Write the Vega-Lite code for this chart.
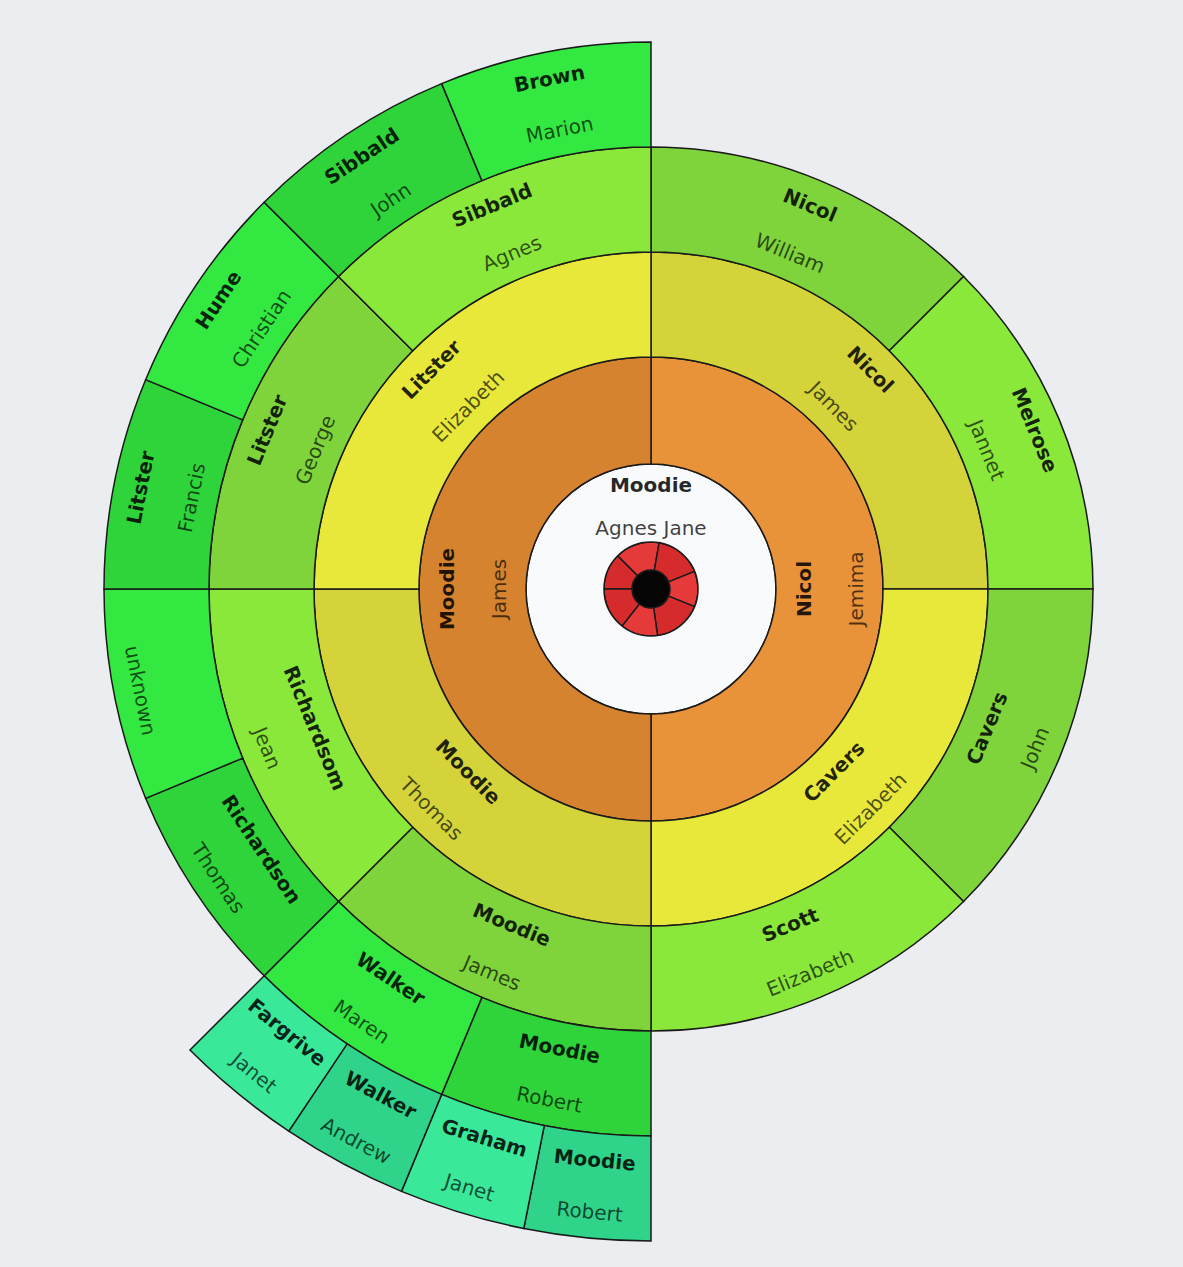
{
  "$schema": "https://vega.github.io/schema/vega-lite/v6.json",
  "width": 1064,
  "height": 1178,
  "padding": {"left": 119, "top": 0, "right": 0, "bottom": 89},
  "autosize": {"type": "none"},
  "background": "#ebedf0",
  "config": {"view": {"stroke": null}},
  "data": {
    "values": [
      {"gen": -2, "sex": "", "surname": "", "given": "", "a0": 0, "a1": 360},
      {"gen": -1, "sex": "M", "surname": "", "given": "", "a0": 270, "a1": 315},
      {"gen": -1, "sex": "F", "surname": "", "given": "", "a0": 315, "a1": 370},
      {"gen": -1, "sex": "M", "surname": "", "given": "", "a0": 10, "a1": 68},
      {"gen": -1, "sex": "F", "surname": "", "given": "", "a0": 68, "a1": 112},
      {"gen": -1, "sex": "M", "surname": "", "given": "", "a0": 112, "a1": 172},
      {"gen": -1, "sex": "F", "surname": "", "given": "", "a0": 172, "a1": 218},
      {"gen": -1, "sex": "M", "surname": "", "given": "", "a0": 218, "a1": 270},
      {"gen": 0, "sex": "F", "surname": "Moodie", "given": "Agnes Jane", "a0": -180, "a1": 180},
      {"gen": 1, "sex": "F", "surname": "Nicol", "given": "Jemima", "a0": 0, "a1": 180},
      {"gen": 1, "sex": "M", "surname": "Moodie", "given": "James", "a0": 180, "a1": 360},
      {"gen": 2, "sex": "M", "surname": "Nicol", "given": "James", "a0": 0, "a1": 90},
      {"gen": 2, "sex": "F", "surname": "Cavers", "given": "Elizabeth", "a0": 90, "a1": 180},
      {"gen": 2, "sex": "M", "surname": "Moodie", "given": "Thomas", "a0": 180, "a1": 270},
      {"gen": 2, "sex": "F", "surname": "Litster", "given": "Elizabeth", "a0": 270, "a1": 360},
      {"gen": 3, "sex": "M", "surname": "Nicol", "given": "William", "a0": 0, "a1": 45},
      {"gen": 3, "sex": "F", "surname": "Melrose", "given": "Jannet", "a0": 45, "a1": 90},
      {"gen": 3, "sex": "M", "surname": "Cavers", "given": "John", "a0": 90, "a1": 135},
      {"gen": 3, "sex": "F", "surname": "Scott", "given": "Elizabeth", "a0": 135, "a1": 180},
      {"gen": 3, "sex": "M", "surname": "Moodie", "given": "James", "a0": 180, "a1": 225},
      {"gen": 3, "sex": "F", "surname": "Richardsom", "given": "Jean", "a0": 225, "a1": 270},
      {"gen": 3, "sex": "M", "surname": "Litster", "given": "George", "a0": 270, "a1": 315},
      {"gen": 3, "sex": "F", "surname": "Sibbald", "given": "Agnes", "a0": 315, "a1": 360},
      {"gen": 4, "sex": "M", "surname": "Moodie", "given": "Robert", "a0": 180, "a1": 202.5},
      {"gen": 4, "sex": "F", "surname": "Walker", "given": "Maren", "a0": 202.5, "a1": 225},
      {"gen": 4, "sex": "M", "surname": "Richardson", "given": "Thomas", "a0": 225, "a1": 247.5},
      {"gen": 4, "sex": "F", "surname": "", "given": "unknown", "a0": 247.5, "a1": 270},
      {"gen": 4, "sex": "M", "surname": "Litster", "given": "Francis", "a0": 270, "a1": 292.5},
      {"gen": 4, "sex": "F", "surname": "Hume", "given": "Christian", "a0": 292.5, "a1": 315},
      {"gen": 4, "sex": "M", "surname": "Sibbald", "given": "John", "a0": 315, "a1": 337.5},
      {"gen": 4, "sex": "F", "surname": "Brown", "given": "Marion", "a0": 337.5, "a1": 360},
      {"gen": 5, "sex": "M", "surname": "Moodie", "given": "Robert", "a0": 180, "a1": 191.25},
      {"gen": 5, "sex": "F", "surname": "Graham", "given": "Janet", "a0": 191.25, "a1": 202.5},
      {"gen": 5, "sex": "M", "surname": "Walker", "given": "Andrew", "a0": 202.5, "a1": 213.75},
      {"gen": 5, "sex": "F", "surname": "Fargrive", "given": "Janet", "a0": 213.75, "a1": 225}
    ]
  },
  "transform": [
    {"calculate": "datum.gen - 1", "as": "gin"},
    {"calculate": "datum.gen - 0.5", "as": "rmid"},
    {"calculate": "(datum.a0 + datum.a1) / 2", "as": "mid"},
    {"calculate": "datum.gen + datum.sex", "as": "tone"}
  ],
  "layer": [
    {
      "mark": {"type": "arc", "stroke": "#1a1a1a", "strokeWidth": 1.5},
      "encoding": {
        "theta": {"field": "a0", "type": "quantitative", "stack": null, "scale": {"domain": [0, 360], "range": [0, 6.283185307179586], "zero": false, "nice": false}},
        "theta2": {"field": "a1"},
        "radius": {"field": "gen", "type": "quantitative", "scale": {"type": "linear", "domain": [-3, -2, -1, 0, 1, 2, 3, 4, 5], "range": [0, 19, 47, 125, 232, 337, 442, 547, 652], "zero": false, "nice": false}},
        "radius2": {"field": "gin"},
        "color": {
          "field": "tone", "type": "nominal", "legend": null,
          "scale": {
            "domain": ["-2", "-1M", "-1F", "0F", "1M", "1F", "2M", "2F", "3M", "3F", "4M", "4F", "5M", "5F"],
            "range": ["#050505", "#d62b2d", "#e63a3a", "#f9fafb", "#d5832f", "#e8923a", "#d4d43a", "#e8e83a", "#7ed43a", "#8ae83a", "#2fd43a", "#33e840", "#2fd48a", "#3ae89a"]
          }
        }
      }
    },
    {
      "transform": [{"filter": "datum.gen >= 1"}],
      "mark": {"type": "text", "font": "DejaVu Sans", "fontSize": 20, "fontWeight": "bold", "fill": "#000", "fillOpacity": 0.85, "dy": -25, "baseline": "middle", "align": "center"},
      "encoding": {
        "theta": {"field": "mid", "type": "quantitative", "stack": null, "scale": {"domain": [0, 360], "range": [0, 6.283185307179586], "zero": false, "nice": false}},
        "radius": {"field": "rmid", "type": "quantitative", "scale": {"type": "linear", "domain": [-3, -2, -1, 0, 1, 2, 3, 4, 5], "range": [0, 19, 47, 125, 232, 337, 442, 547, 652], "zero": false, "nice": false}},
        "angle": {"field": "mid", "type": "quantitative", "scale": {"domain": [0, 89.999, 90, 269.999, 270, 360], "range": [0, 89.999, -90, 89.999, -90, 0], "zero": false, "nice": false}},
        "text": {"field": "surname"}
      }
    },
    {
      "transform": [{"filter": "datum.gen >= 1"}],
      "mark": {"type": "text", "font": "DejaVu Sans", "fontSize": 20, "fill": "#000", "fillOpacity": 0.68, "dy": 27, "baseline": "middle", "align": "center"},
      "encoding": {
        "theta": {"field": "mid", "type": "quantitative", "stack": null, "scale": {"domain": [0, 360], "range": [0, 6.283185307179586], "zero": false, "nice": false}},
        "radius": {"field": "rmid", "type": "quantitative", "scale": {"type": "linear", "domain": [-3, -2, -1, 0, 1, 2, 3, 4, 5], "range": [0, 19, 47, 125, 232, 337, 442, 547, 652], "zero": false, "nice": false}},
        "angle": {"field": "mid", "type": "quantitative", "scale": {"domain": [0, 89.999, 90, 269.999, 270, 360], "range": [0, 89.999, -90, 89.999, -90, 0], "zero": false, "nice": false}},
        "text": {"field": "given"}
      }
    },
    {
      "transform": [{"filter": "datum.gen == 0"}],
      "mark": {"type": "text", "font": "DejaVu Sans", "fontSize": 20, "fontWeight": "bold", "fill": "#000", "fillOpacity": 0.85, "dy": -17, "baseline": "middle", "align": "center"},
      "encoding": {
        "theta": {"field": "mid", "type": "quantitative", "stack": null, "scale": {"domain": [0, 360], "range": [0, 6.283185307179586], "zero": false, "nice": false}},
        "radius": {"field": "rmid", "type": "quantitative", "scale": {"type": "linear", "domain": [-3, -2, -1, 0, 1, 2, 3, 4, 5], "range": [0, 19, 47, 125, 232, 337, 442, 547, 652], "zero": false, "nice": false}},
        "text": {"field": "surname"}
      }
    },
    {
      "transform": [{"filter": "datum.gen == 0"}],
      "mark": {"type": "text", "font": "DejaVu Sans", "fontSize": 20, "fill": "#000", "fillOpacity": 0.75, "dy": 26, "baseline": "middle", "align": "center"},
      "encoding": {
        "theta": {"field": "mid", "type": "quantitative", "stack": null, "scale": {"domain": [0, 360], "range": [0, 6.283185307179586], "zero": false, "nice": false}},
        "radius": {"field": "rmid", "type": "quantitative", "scale": {"type": "linear", "domain": [-3, -2, -1, 0, 1, 2, 3, 4, 5], "range": [0, 19, 47, 125, 232, 337, 442, 547, 652], "zero": false, "nice": false}},
        "text": {"field": "given"}
      }
    }
  ]
}
